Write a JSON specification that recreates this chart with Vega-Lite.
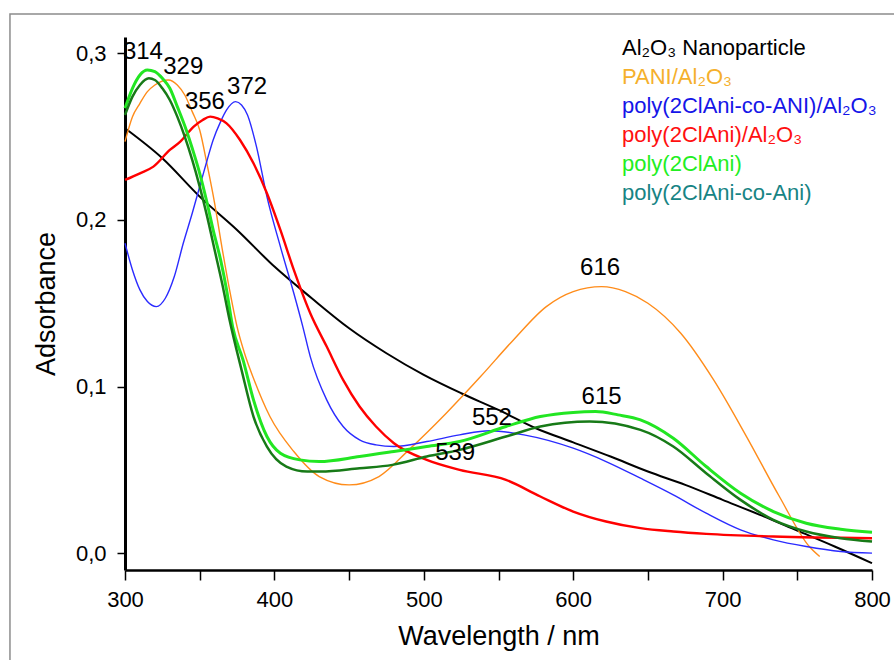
{
  "$schema": "https://vega.github.io/schema/vega-lite/v6.json",
  "width": 747,
  "height": 533,
  "autosize": {"type": "none"},
  "padding": {"left": 125, "top": 37, "right": 22, "bottom": 90},
  "background": "white",
  "config": {
    "view": {"stroke": null},
    "font": "Liberation Sans",
    "axis": {"grid": false, "labelFont": "Liberation Sans", "titleFont": "Liberation Sans", "labelColor": "#000", "titleColor": "#000", "domainColor": "#000", "tickColor": "#000", "titleFontWeight": "normal"},
    "line": {"interpolate": "monotone", "clip": true}
  },
  "datasets": {
    "spectra": [
      {"s": "Al₂O₃ Nanoparticle", "w": 300, "a": 0.255},
      {"s": "Al₂O₃ Nanoparticle", "w": 325, "a": 0.237},
      {"s": "Al₂O₃ Nanoparticle", "w": 350, "a": 0.214},
      {"s": "Al₂O₃ Nanoparticle", "w": 375, "a": 0.194},
      {"s": "Al₂O₃ Nanoparticle", "w": 400, "a": 0.172},
      {"s": "Al₂O₃ Nanoparticle", "w": 425, "a": 0.153},
      {"s": "Al₂O₃ Nanoparticle", "w": 450, "a": 0.135},
      {"s": "Al₂O₃ Nanoparticle", "w": 475, "a": 0.120},
      {"s": "Al₂O₃ Nanoparticle", "w": 500, "a": 0.107},
      {"s": "Al₂O₃ Nanoparticle", "w": 525, "a": 0.096},
      {"s": "Al₂O₃ Nanoparticle", "w": 550, "a": 0.086},
      {"s": "Al₂O₃ Nanoparticle", "w": 575, "a": 0.075},
      {"s": "Al₂O₃ Nanoparticle", "w": 600, "a": 0.0665},
      {"s": "Al₂O₃ Nanoparticle", "w": 625, "a": 0.058},
      {"s": "Al₂O₃ Nanoparticle", "w": 650, "a": 0.049},
      {"s": "Al₂O₃ Nanoparticle", "w": 675, "a": 0.041},
      {"s": "Al₂O₃ Nanoparticle", "w": 700, "a": 0.032},
      {"s": "Al₂O₃ Nanoparticle", "w": 725, "a": 0.023},
      {"s": "Al₂O₃ Nanoparticle", "w": 750, "a": 0.0135},
      {"s": "Al₂O₃ Nanoparticle", "w": 775, "a": 0.004},
      {"s": "Al₂O₃ Nanoparticle", "w": 800, "a": -0.006},

      {"s": "PANI/Al₂O₃", "w": 300, "a": 0.247},
      {"s": "PANI/Al₂O₃", "w": 305, "a": 0.262},
      {"s": "PANI/Al₂O₃", "w": 310, "a": 0.270},
      {"s": "PANI/Al₂O₃", "w": 315, "a": 0.277},
      {"s": "PANI/Al₂O₃", "w": 320, "a": 0.281},
      {"s": "PANI/Al₂O₃", "w": 329, "a": 0.284},
      {"s": "PANI/Al₂O₃", "w": 335, "a": 0.281},
      {"s": "PANI/Al₂O₃", "w": 340, "a": 0.275},
      {"s": "PANI/Al₂O₃", "w": 345, "a": 0.265},
      {"s": "PANI/Al₂O₃", "w": 350, "a": 0.254},
      {"s": "PANI/Al₂O₃", "w": 355, "a": 0.233},
      {"s": "PANI/Al₂O₃", "w": 360, "a": 0.210},
      {"s": "PANI/Al₂O₃", "w": 365, "a": 0.183},
      {"s": "PANI/Al₂O₃", "w": 370, "a": 0.158},
      {"s": "PANI/Al₂O₃", "w": 375, "a": 0.136},
      {"s": "PANI/Al₂O₃", "w": 380, "a": 0.120},
      {"s": "PANI/Al₂O₃", "w": 386, "a": 0.105},
      {"s": "PANI/Al₂O₃", "w": 397, "a": 0.082},
      {"s": "PANI/Al₂O₃", "w": 413, "a": 0.061},
      {"s": "PANI/Al₂O₃", "w": 430, "a": 0.046},
      {"s": "PANI/Al₂O₃", "w": 450, "a": 0.041},
      {"s": "PANI/Al₂O₃", "w": 470, "a": 0.046},
      {"s": "PANI/Al₂O₃", "w": 490, "a": 0.062},
      {"s": "PANI/Al₂O₃", "w": 515, "a": 0.084},
      {"s": "PANI/Al₂O₃", "w": 538, "a": 0.106},
      {"s": "PANI/Al₂O₃", "w": 560, "a": 0.128},
      {"s": "PANI/Al₂O₃", "w": 582, "a": 0.148},
      {"s": "PANI/Al₂O₃", "w": 600, "a": 0.157},
      {"s": "PANI/Al₂O₃", "w": 619, "a": 0.160},
      {"s": "PANI/Al₂O₃", "w": 635, "a": 0.157},
      {"s": "PANI/Al₂O₃", "w": 650, "a": 0.150},
      {"s": "PANI/Al₂O₃", "w": 672, "a": 0.132},
      {"s": "PANI/Al₂O₃", "w": 694, "a": 0.104},
      {"s": "PANI/Al₂O₃", "w": 716, "a": 0.070},
      {"s": "PANI/Al₂O₃", "w": 738, "a": 0.034},
      {"s": "PANI/Al₂O₃", "w": 758, "a": 0.004},
      {"s": "PANI/Al₂O₃", "w": 765, "a": -0.002},

      {"s": "poly(2ClAni-co-ANI)/Al₂O₃", "w": 300, "a": 0.186},
      {"s": "poly(2ClAni-co-ANI)/Al₂O₃", "w": 305, "a": 0.170},
      {"s": "poly(2ClAni-co-ANI)/Al₂O₃", "w": 310, "a": 0.158},
      {"s": "poly(2ClAni-co-ANI)/Al₂O₃", "w": 315, "a": 0.151},
      {"s": "poly(2ClAni-co-ANI)/Al₂O₃", "w": 321, "a": 0.148},
      {"s": "poly(2ClAni-co-ANI)/Al₂O₃", "w": 327, "a": 0.153},
      {"s": "poly(2ClAni-co-ANI)/Al₂O₃", "w": 333, "a": 0.166},
      {"s": "poly(2ClAni-co-ANI)/Al₂O₃", "w": 339, "a": 0.186},
      {"s": "poly(2ClAni-co-ANI)/Al₂O₃", "w": 345, "a": 0.204},
      {"s": "poly(2ClAni-co-ANI)/Al₂O₃", "w": 350, "a": 0.220},
      {"s": "poly(2ClAni-co-ANI)/Al₂O₃", "w": 355, "a": 0.236},
      {"s": "poly(2ClAni-co-ANI)/Al₂O₃", "w": 359, "a": 0.248},
      {"s": "poly(2ClAni-co-ANI)/Al₂O₃", "w": 364, "a": 0.259},
      {"s": "poly(2ClAni-co-ANI)/Al₂O₃", "w": 368, "a": 0.266},
      {"s": "poly(2ClAni-co-ANI)/Al₂O₃", "w": 374, "a": 0.271},
      {"s": "poly(2ClAni-co-ANI)/Al₂O₃", "w": 378, "a": 0.269},
      {"s": "poly(2ClAni-co-ANI)/Al₂O₃", "w": 382, "a": 0.263},
      {"s": "poly(2ClAni-co-ANI)/Al₂O₃", "w": 388, "a": 0.244},
      {"s": "poly(2ClAni-co-ANI)/Al₂O₃", "w": 395, "a": 0.214},
      {"s": "poly(2ClAni-co-ANI)/Al₂O₃", "w": 404, "a": 0.184},
      {"s": "poly(2ClAni-co-ANI)/Al₂O₃", "w": 413, "a": 0.156},
      {"s": "poly(2ClAni-co-ANI)/Al₂O₃", "w": 419, "a": 0.136},
      {"s": "poly(2ClAni-co-ANI)/Al₂O₃", "w": 424, "a": 0.118},
      {"s": "poly(2ClAni-co-ANI)/Al₂O₃", "w": 435, "a": 0.092},
      {"s": "poly(2ClAni-co-ANI)/Al₂O₃", "w": 446, "a": 0.076},
      {"s": "poly(2ClAni-co-ANI)/Al₂O₃", "w": 457, "a": 0.068},
      {"s": "poly(2ClAni-co-ANI)/Al₂O₃", "w": 468, "a": 0.065},
      {"s": "poly(2ClAni-co-ANI)/Al₂O₃", "w": 480, "a": 0.064},
      {"s": "poly(2ClAni-co-ANI)/Al₂O₃", "w": 502, "a": 0.067},
      {"s": "poly(2ClAni-co-ANI)/Al₂O₃", "w": 524, "a": 0.071},
      {"s": "poly(2ClAni-co-ANI)/Al₂O₃", "w": 544, "a": 0.0735},
      {"s": "poly(2ClAni-co-ANI)/Al₂O₃", "w": 567, "a": 0.071},
      {"s": "poly(2ClAni-co-ANI)/Al₂O₃", "w": 600, "a": 0.063},
      {"s": "poly(2ClAni-co-ANI)/Al₂O₃", "w": 622, "a": 0.055},
      {"s": "poly(2ClAni-co-ANI)/Al₂O₃", "w": 645, "a": 0.045},
      {"s": "poly(2ClAni-co-ANI)/Al₂O₃", "w": 667, "a": 0.035},
      {"s": "poly(2ClAni-co-ANI)/Al₂O₃", "w": 689, "a": 0.024},
      {"s": "poly(2ClAni-co-ANI)/Al₂O₃", "w": 712, "a": 0.014},
      {"s": "poly(2ClAni-co-ANI)/Al₂O₃", "w": 734, "a": 0.008},
      {"s": "poly(2ClAni-co-ANI)/Al₂O₃", "w": 756, "a": 0.004},
      {"s": "poly(2ClAni-co-ANI)/Al₂O₃", "w": 779, "a": 0.001},
      {"s": "poly(2ClAni-co-ANI)/Al₂O₃", "w": 800, "a": 0.000},

      {"s": "poly(2ClAni)/Al₂O₃", "w": 300, "a": 0.224},
      {"s": "poly(2ClAni)/Al₂O₃", "w": 310, "a": 0.228},
      {"s": "poly(2ClAni)/Al₂O₃", "w": 319, "a": 0.232},
      {"s": "poly(2ClAni)/Al₂O₃", "w": 330, "a": 0.242},
      {"s": "poly(2ClAni)/Al₂O₃", "w": 337, "a": 0.247},
      {"s": "poly(2ClAni)/Al₂O₃", "w": 346, "a": 0.256},
      {"s": "poly(2ClAni)/Al₂O₃", "w": 352, "a": 0.260},
      {"s": "poly(2ClAni)/Al₂O₃", "w": 357, "a": 0.262},
      {"s": "poly(2ClAni)/Al₂O₃", "w": 362, "a": 0.261},
      {"s": "poly(2ClAni)/Al₂O₃", "w": 368, "a": 0.258},
      {"s": "poly(2ClAni)/Al₂O₃", "w": 377, "a": 0.248},
      {"s": "poly(2ClAni)/Al₂O₃", "w": 386, "a": 0.234},
      {"s": "poly(2ClAni)/Al₂O₃", "w": 395, "a": 0.216},
      {"s": "poly(2ClAni)/Al₂O₃", "w": 404, "a": 0.194},
      {"s": "poly(2ClAni)/Al₂O₃", "w": 413, "a": 0.170},
      {"s": "poly(2ClAni)/Al₂O₃", "w": 424, "a": 0.144},
      {"s": "poly(2ClAni)/Al₂O₃", "w": 435, "a": 0.124},
      {"s": "poly(2ClAni)/Al₂O₃", "w": 446, "a": 0.104},
      {"s": "poly(2ClAni)/Al₂O₃", "w": 457, "a": 0.088},
      {"s": "poly(2ClAni)/Al₂O₃", "w": 468, "a": 0.076},
      {"s": "poly(2ClAni)/Al₂O₃", "w": 480, "a": 0.066},
      {"s": "poly(2ClAni)/Al₂O₃", "w": 502, "a": 0.056},
      {"s": "poly(2ClAni)/Al₂O₃", "w": 524, "a": 0.050},
      {"s": "poly(2ClAni)/Al₂O₃", "w": 555, "a": 0.044},
      {"s": "poly(2ClAni)/Al₂O₃", "w": 578, "a": 0.034},
      {"s": "poly(2ClAni)/Al₂O₃", "w": 600, "a": 0.025},
      {"s": "poly(2ClAni)/Al₂O₃", "w": 622, "a": 0.019},
      {"s": "poly(2ClAni)/Al₂O₃", "w": 645, "a": 0.015},
      {"s": "poly(2ClAni)/Al₂O₃", "w": 667, "a": 0.013},
      {"s": "poly(2ClAni)/Al₂O₃", "w": 689, "a": 0.0116},
      {"s": "poly(2ClAni)/Al₂O₃", "w": 734, "a": 0.010},
      {"s": "poly(2ClAni)/Al₂O₃", "w": 800, "a": 0.009},

      {"s": "poly(2ClAni)", "w": 300, "a": 0.267},
      {"s": "poly(2ClAni)", "w": 305, "a": 0.279},
      {"s": "poly(2ClAni)", "w": 310, "a": 0.287},
      {"s": "poly(2ClAni)", "w": 315, "a": 0.290},
      {"s": "poly(2ClAni)", "w": 320, "a": 0.289},
      {"s": "poly(2ClAni)", "w": 325, "a": 0.285},
      {"s": "poly(2ClAni)", "w": 330, "a": 0.279},
      {"s": "poly(2ClAni)", "w": 335, "a": 0.268},
      {"s": "poly(2ClAni)", "w": 341, "a": 0.254},
      {"s": "poly(2ClAni)", "w": 345, "a": 0.243},
      {"s": "poly(2ClAni)", "w": 350, "a": 0.228},
      {"s": "poly(2ClAni)", "w": 355, "a": 0.210},
      {"s": "poly(2ClAni)", "w": 359, "a": 0.194},
      {"s": "poly(2ClAni)", "w": 364, "a": 0.176},
      {"s": "poly(2ClAni)", "w": 368, "a": 0.158},
      {"s": "poly(2ClAni)", "w": 372, "a": 0.136},
      {"s": "poly(2ClAni)", "w": 379, "a": 0.116},
      {"s": "poly(2ClAni)", "w": 386, "a": 0.092},
      {"s": "poly(2ClAni)", "w": 395, "a": 0.070},
      {"s": "poly(2ClAni)", "w": 404, "a": 0.060},
      {"s": "poly(2ClAni)", "w": 417, "a": 0.056},
      {"s": "poly(2ClAni)", "w": 430, "a": 0.055},
      {"s": "poly(2ClAni)", "w": 457, "a": 0.058},
      {"s": "poly(2ClAni)", "w": 480, "a": 0.061},
      {"s": "poly(2ClAni)", "w": 502, "a": 0.064},
      {"s": "poly(2ClAni)", "w": 524, "a": 0.067},
      {"s": "poly(2ClAni)", "w": 555, "a": 0.076},
      {"s": "poly(2ClAni)", "w": 578, "a": 0.082},
      {"s": "poly(2ClAni)", "w": 600, "a": 0.0845},
      {"s": "poly(2ClAni)", "w": 615, "a": 0.085},
      {"s": "poly(2ClAni)", "w": 630, "a": 0.083},
      {"s": "poly(2ClAni)", "w": 645, "a": 0.080},
      {"s": "poly(2ClAni)", "w": 667, "a": 0.069},
      {"s": "poly(2ClAni)", "w": 689, "a": 0.052},
      {"s": "poly(2ClAni)", "w": 712, "a": 0.036},
      {"s": "poly(2ClAni)", "w": 734, "a": 0.025},
      {"s": "poly(2ClAni)", "w": 756, "a": 0.018},
      {"s": "poly(2ClAni)", "w": 779, "a": 0.0144},
      {"s": "poly(2ClAni)", "w": 800, "a": 0.0125},

      {"s": "poly(2ClAni-co-Ani)", "w": 300, "a": 0.263},
      {"s": "poly(2ClAni-co-Ani)", "w": 305, "a": 0.274},
      {"s": "poly(2ClAni-co-Ani)", "w": 310, "a": 0.281},
      {"s": "poly(2ClAni-co-Ani)", "w": 316, "a": 0.285},
      {"s": "poly(2ClAni-co-Ani)", "w": 320, "a": 0.284},
      {"s": "poly(2ClAni-co-Ani)", "w": 325, "a": 0.279},
      {"s": "poly(2ClAni-co-Ani)", "w": 330, "a": 0.272},
      {"s": "poly(2ClAni-co-Ani)", "w": 335, "a": 0.262},
      {"s": "poly(2ClAni-co-Ani)", "w": 340, "a": 0.250},
      {"s": "poly(2ClAni-co-Ani)", "w": 345, "a": 0.236},
      {"s": "poly(2ClAni-co-Ani)", "w": 350, "a": 0.220},
      {"s": "poly(2ClAni-co-Ani)", "w": 355, "a": 0.202},
      {"s": "poly(2ClAni-co-Ani)", "w": 360, "a": 0.182},
      {"s": "poly(2ClAni-co-Ani)", "w": 365, "a": 0.162},
      {"s": "poly(2ClAni-co-Ani)", "w": 370, "a": 0.140},
      {"s": "poly(2ClAni-co-Ani)", "w": 378, "a": 0.110},
      {"s": "poly(2ClAni-co-Ani)", "w": 386, "a": 0.082},
      {"s": "poly(2ClAni-co-Ani)", "w": 395, "a": 0.064},
      {"s": "poly(2ClAni-co-Ani)", "w": 408, "a": 0.052},
      {"s": "poly(2ClAni-co-Ani)", "w": 422, "a": 0.049},
      {"s": "poly(2ClAni-co-Ani)", "w": 431, "a": 0.049},
      {"s": "poly(2ClAni-co-Ani)", "w": 457, "a": 0.051},
      {"s": "poly(2ClAni-co-Ani)", "w": 479, "a": 0.053},
      {"s": "poly(2ClAni-co-Ani)", "w": 502, "a": 0.058},
      {"s": "poly(2ClAni-co-Ani)", "w": 524, "a": 0.062},
      {"s": "poly(2ClAni-co-Ani)", "w": 555, "a": 0.070},
      {"s": "poly(2ClAni-co-Ani)", "w": 578, "a": 0.076},
      {"s": "poly(2ClAni-co-Ani)", "w": 611, "a": 0.079},
      {"s": "poly(2ClAni-co-Ani)", "w": 645, "a": 0.074},
      {"s": "poly(2ClAni-co-Ani)", "w": 667, "a": 0.064},
      {"s": "poly(2ClAni-co-Ani)", "w": 689, "a": 0.048},
      {"s": "poly(2ClAni-co-Ani)", "w": 712, "a": 0.032},
      {"s": "poly(2ClAni-co-Ani)", "w": 734, "a": 0.020},
      {"s": "poly(2ClAni-co-Ani)", "w": 756, "a": 0.013},
      {"s": "poly(2ClAni-co-Ani)", "w": 779, "a": 0.009},
      {"s": "poly(2ClAni-co-Ani)", "w": 800, "a": 0.007}
    ],
    "peaks": [
      {"label": "314", "w": 312, "a": 0.301},
      {"label": "329", "w": 339, "a": 0.292},
      {"label": "356", "w": 353.5, "a": 0.271},
      {"label": "372", "w": 381.7, "a": 0.280},
      {"label": "616", "w": 618, "a": 0.171},
      {"label": "615", "w": 619, "a": 0.094},
      {"label": "552", "w": 545.6, "a": 0.081},
      {"label": "539", "w": 521, "a": 0.060}
    ]
  },
  "layer": [
    {
      "data": {"values": [{"frame": "border"}]},
      "mark": {"type": "rect", "filled": false, "stroke": "#8c8c8c", "strokeWidth": 1.5, "clip": false},
      "encoding": {
        "x": {
          "datum": 223, "type": "quantitative",
          "scale": {"domain": [300, 800], "nice": false, "zero": false},
          "axis": {
            "values": [300, 350, 400, 450, 500, 550, 600, 650, 700, 750, 800],
            "labelExpr": "datum.value % 100 == 0 ? datum.label : ''",
            "labelFontSize": 22, "labelPadding": 9, "labelFlush": false, "labelOverlap": false,
            "tickSize": 10, "tickWidth": 1.5, "domainWidth": 2.5,
            "title": "Wavelength / nm", "titleFontSize": 27, "titlePadding": 13
          }
        },
        "x2": {"datum": 960},
        "y": {
          "datum": 0.3236, "type": "quantitative",
          "scale": {"domain": [-0.0101, 0.3098], "nice": false, "zero": false},
          "axis": {
            "values": [0, 0.1, 0.2, 0.3],
            "labelExpr": "replace(format(datum.value, '.1f'), '.', ',')",
            "labelFontSize": 22, "labelPadding": 11,
            "tickSize": 8, "tickWidth": 1.5, "domainWidth": 3,
            "title": "Adsorbance", "titleFontSize": 27, "titlePadding": 15
          }
        },
        "y2": {"datum": -0.2}
      }
    },
    {
      "data": {"name": "spectra"},
      "transform": [{"filter": "datum.s == 'Al₂O₃ Nanoparticle'"}],
      "mark": {"type": "line", "strokeWidth": 2},
      "encoding": {
        "x": {"field": "w", "type": "quantitative"},
        "y": {"field": "a", "type": "quantitative"},
        "color": {
          "field": "s", "type": "nominal",
          "scale": {
            "domain": ["Al₂O₃ Nanoparticle", "PANI/Al₂O₃", "poly(2ClAni-co-ANI)/Al₂O₃", "poly(2ClAni)/Al₂O₃", "poly(2ClAni)", "poly(2ClAni-co-Ani)"],
            "range": ["#000000", "#ff8c1a", "#2b2bff", "#ff0000", "#22e622", "#177a17"]
          },
          "legend": {
            "orient": "none", "legendX": 475, "legendY": 0,
            "title": null, "padding": 0,
            "symbolSize": 0, "symbolStrokeWidth": 0, "symbolOpacity": 0,
            "labelOffset": 0, "labelFontSize": 22, "labelFont": "Liberation Sans", "labelLimit": 500,
            "rowPadding": 7,
            "encode": {
              "labels": {
                "update": {
                  "fill": {"signal": "datum.value == 'PANI/Al₂O₃' ? '#f5b02c' : datum.value == 'poly(2ClAni-co-ANI)/Al₂O₃' ? '#1515e8' : datum.value == 'poly(2ClAni)/Al₂O₃' ? '#ff1010' : datum.value == 'poly(2ClAni)' ? '#22ee22' : datum.value == 'poly(2ClAni-co-Ani)' ? '#178484' : '#000000'"}
                }
              }
            }
          }
        }
      }
    },
    {
      "data": {"name": "spectra"},
      "transform": [{"filter": "datum.s == 'PANI/Al₂O₃'"}],
      "mark": {"type": "line", "strokeWidth": 1.4},
      "encoding": {
        "x": {"field": "w", "type": "quantitative"},
        "y": {"field": "a", "type": "quantitative"},
        "color": {"field": "s", "type": "nominal"}
      }
    },
    {
      "data": {"name": "spectra"},
      "transform": [{"filter": "datum.s == 'poly(2ClAni-co-ANI)/Al₂O₃'"}],
      "mark": {"type": "line", "strokeWidth": 1.4},
      "encoding": {
        "x": {"field": "w", "type": "quantitative"},
        "y": {"field": "a", "type": "quantitative"},
        "color": {"field": "s", "type": "nominal"}
      }
    },
    {
      "data": {"name": "spectra"},
      "transform": [{"filter": "datum.s == 'poly(2ClAni)/Al₂O₃'"}],
      "mark": {"type": "line", "strokeWidth": 2.4},
      "encoding": {
        "x": {"field": "w", "type": "quantitative"},
        "y": {"field": "a", "type": "quantitative"},
        "color": {"field": "s", "type": "nominal"}
      }
    },
    {
      "data": {"name": "spectra"},
      "transform": [{"filter": "datum.s == 'poly(2ClAni)'"}],
      "mark": {"type": "line", "strokeWidth": 3},
      "encoding": {
        "x": {"field": "w", "type": "quantitative"},
        "y": {"field": "a", "type": "quantitative"},
        "color": {"field": "s", "type": "nominal"}
      }
    },
    {
      "data": {"name": "spectra"},
      "transform": [{"filter": "datum.s == 'poly(2ClAni-co-Ani)'"}],
      "mark": {"type": "line", "strokeWidth": 2.5},
      "encoding": {
        "x": {"field": "w", "type": "quantitative"},
        "y": {"field": "a", "type": "quantitative"},
        "color": {"field": "s", "type": "nominal"}
      }
    },
    {
      "data": {"name": "peaks"},
      "mark": {"type": "text", "fontSize": 24, "font": "Liberation Sans", "color": "#000", "align": "center", "baseline": "middle"},
      "encoding": {
        "x": {"field": "w", "type": "quantitative"},
        "y": {"field": "a", "type": "quantitative"},
        "text": {"field": "label"}
      }
    }
  ]
}
